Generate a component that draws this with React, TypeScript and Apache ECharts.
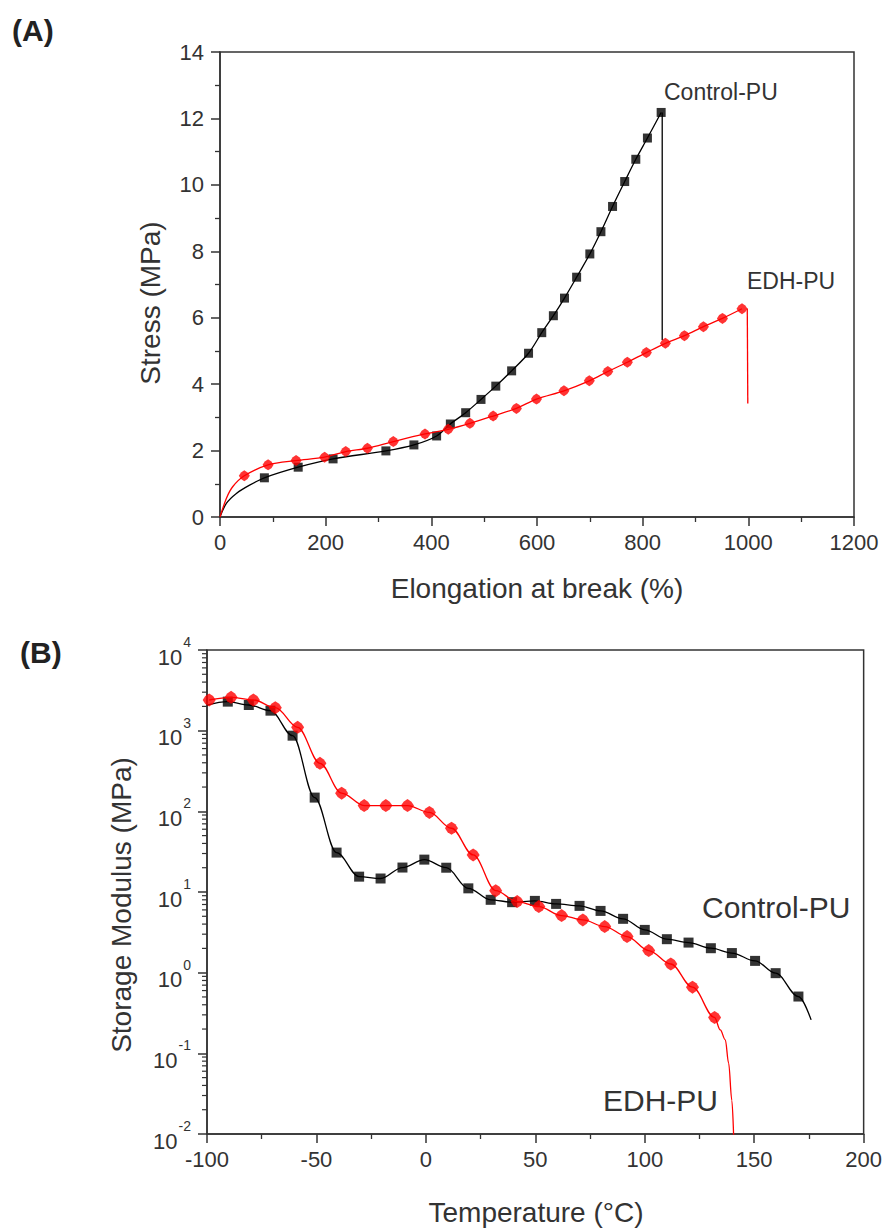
import React, { useEffect, useRef } from 'react';
import * as echarts from 'echarts';

const FONT = '"Liberation Sans", Arial, Helvetica, sans-serif';
const INK = '#333';
const RED = '#ff0000';
const OCTA = 'path://M10,0L16,4L20,10L16,16L10,20L4,16L0,10L4,4Z';

// ---------- (A) Stress–strain ----------
const tensileXTicks = [0, 200, 400, 600, 800, 1000, 1200];
const tensileYTicks = [0, 2, 4, 6, 8, 10, 12, 14];

const controlLeadStrain = [0, 12, 31, 56];
const controlLeadStress = [0, 0.41, 0.71, 0.96];
const controlStrain = [84, 148, 214, 314, 367, 410, 436, 465, 494, 522, 552, 584, 609, 631, 652, 675, 700, 721, 743, 766, 787, 809, 835];
const controlStress = [1.18, 1.5, 1.75, 1.99, 2.17, 2.44, 2.8, 3.14, 3.54, 3.94, 4.4, 4.93, 5.55, 6.06, 6.59, 7.22, 7.92, 8.59, 9.35, 10.1, 10.77, 11.41, 12.18];
const controlBreakStrain = [837, 837];
const controlBreakStress = [12.18, 5.33];

const edhLeadStrain = [0, 12, 24];
const edhLeadStress = [0, 0.56, 0.91];
const edhStrain = [46, 91, 144, 198, 238, 279, 328, 388, 432, 473, 517, 561, 599, 651, 699, 734, 771, 807, 843, 879, 915, 951, 988];
const edhStress = [1.24, 1.57, 1.7, 1.8, 1.97, 2.07, 2.27, 2.5, 2.64, 2.82, 3.04, 3.27, 3.55, 3.8, 4.1, 4.38, 4.66, 4.95, 5.23, 5.46, 5.73, 5.98, 6.27];
const edhBreakStrain = [998, 999, 999];
const edhBreakStress = [6.28, 6.28, 3.42];

// ---------- (B) DMA storage modulus ----------
const tempTicks = [-100, -50, 0, 50, 100, 150, 200];
const modulusExponents = [-2, -1, 0, 1, 2, 3, 4];

const controlTemp = [-90.5, -80.9, -71, -60.9, -50.8, -40.8, -30.5, -20.7, -10.7, -0.7, 9.3, 19.4, 29.6, 39.4, 49.8, 59.5, 70.2, 79.8, 90.1, 100, 110.1, 120, 130.2, 139.8, 150.4, 159.8, 170.2];
const controlModulus = [2290, 2080, 1770, 867, 148, 30.8, 15.5, 14.7, 20.1, 25.2, 20, 11.1, 8.0, 7.48, 7.76, 7.12, 6.73, 5.83, 4.65, 3.39, 2.6, 2.36, 2.01, 1.75, 1.4, 0.986, 0.506];
const controlLineStartTemp = -100;
const controlLineStartModulus = 2080;
const controlLineEndTemp = 176;
const controlLineEndModulus = 0.26;

const edhTemp = [-99, -89, -78.8, -68.8, -58.6, -48.4, -38.5, -28.2, -18.3, -8.4, 1.6, 11.7, 21.6, 31.9, 41.7, 51.6, 62, 71.7, 81.7, 91.9, 101.8, 111.9, 121.8, 131.9];
const edhModulus = [2400, 2590, 2400, 1930, 1100, 394, 168, 118, 118, 118, 97, 61.7, 28.8, 10.4, 7.6, 6.59, 5.1, 4.51, 3.73, 2.8, 1.88, 1.28, 0.66, 0.278];
const edhTailTemp = [134.5, 136.8, 138.3, 139.8, 140.6];
const edhTailModulus = [0.195, 0.147, 0.076, 0.026, 0.0095];

const zip = (xs: number[], ys: number[]) => xs.map((x, i) => [x, ys[i]]);

const minorLogTicks: number[][] = [];
for (let e = -2; e < 4; e++) {
  for (let m = 2; m <= 9; m++) minorLogTicks.push([-100, m * Math.pow(10, e)]);
}

export default function App() {
  const ref = useRef<HTMLDivElement>(null);
  useEffect(() => {
    if (!ref.current) return;
    const chart = echarts.init(ref.current, null, { renderer: 'svg' });
    const tickLabel = { color: INK, fontSize: 22, fontFamily: FONT, formatter: (v: number) => String(v) };
    const axisLine = { show: true, onZero: false, lineStyle: { color: INK, width: 1.5 } };
    const axisTick = { show: true, inside: false, length: 9, lineStyle: { color: INK, width: 1.5 } };
    const minorTick = { show: true, splitNumber: 2, length: 5, lineStyle: { color: INK, width: 1.3 } };
    const gridBox = { show: true, borderColor: INK, borderWidth: 1.5, backgroundColor: 'transparent' };

    const option: any = {
      animation: false,
      backgroundColor: '#fff',
      textStyle: { fontFamily: FONT },
      grid: [
        { left: 220, top: 52, width: 634, height: 465, ...gridBox },
        { left: 207, top: 650, width: 658, height: 484, ...gridBox },
      ],
      xAxis: [
        {
          gridIndex: 0, type: 'value', min: tensileXTicks[0], max: tensileXTicks[tensileXTicks.length - 1], interval: 200,
          axisLine, axisTick, minorTick, splitLine: { show: false }, minorSplitLine: { show: false },
          axisLabel: { ...tickLabel, margin: 14 },
        },
        {
          gridIndex: 1, type: 'value', min: tempTicks[0], max: tempTicks[tempTicks.length - 1], interval: 50,
          axisLine, axisTick, minorTick, splitLine: { show: false },
          axisLabel: { ...tickLabel, margin: 14 },
        },
      ],
      yAxis: [
        {
          gridIndex: 0, type: 'value', min: tensileYTicks[0], max: tensileYTicks[tensileYTicks.length - 1], interval: 2,
          axisLine, axisTick, minorTick, splitLine: { show: false },
          axisLabel: { ...tickLabel, margin: 16 },
        },
        {
          gridIndex: 1, type: 'log', logBase: 10,
          min: Math.pow(10, modulusExponents[0]), max: Math.pow(10, modulusExponents[modulusExponents.length - 1]),
          splitNumber: 6,
          axisLine, axisTick, splitLine: { show: false },
          axisLabel: {
            margin: 16,
            formatter: (v: number) => `{b|10}{s|${Math.round(Math.log10(v))}}`,
            rich: {
              b: { fontSize: 22, color: INK, fontFamily: FONT, padding: [14, 0, 0, 0] },
              s: { fontSize: 14, color: INK, fontFamily: FONT, padding: [0, 0, 16, 1] },
            },
          },
        },
      ],
      series: [
        // (A)
        {
          type: 'line', xAxisIndex: 0, yAxisIndex: 0, showSymbol: false, smooth: 0.3, z: 2,
          data: zip(controlLeadStrain.concat(controlStrain), controlLeadStress.concat(controlStress)),
          lineStyle: { color: '#000', width: 1.3 },
        },
        {
          type: 'line', xAxisIndex: 0, yAxisIndex: 0, showSymbol: false, z: 2,
          data: zip(controlBreakStrain, controlBreakStress), lineStyle: { color: '#000', width: 1.3 },
        },
        {
          type: 'scatter', xAxisIndex: 0, yAxisIndex: 0, symbol: 'rect', symbolSize: 9, z: 3,
          data: zip(controlStrain, controlStress), itemStyle: { color: '#000' },
        },
        {
          type: 'line', xAxisIndex: 0, yAxisIndex: 0, showSymbol: false, smooth: 0.3, z: 4,
          data: zip(edhLeadStrain.concat(edhStrain), edhLeadStress.concat(edhStress)),
          lineStyle: { color: RED, width: 1.3 },
        },
        {
          type: 'line', xAxisIndex: 0, yAxisIndex: 0, showSymbol: false, z: 4,
          data: zip(edhBreakStrain, edhBreakStress), lineStyle: { color: RED, width: 1.3 },
        },
        {
          type: 'scatter', xAxisIndex: 0, yAxisIndex: 0, symbol: OCTA, symbolSize: 11, z: 5,
          data: zip(edhStrain, edhStress), itemStyle: { color: RED },
        },
        // (B)
        {
          type: 'line', xAxisIndex: 1, yAxisIndex: 1, showSymbol: false, smooth: 0.35, smoothMonotone: 'x', z: 2,
          data: zip(
            [controlLineStartTemp, ...controlTemp, controlLineEndTemp],
            [controlLineStartModulus, ...controlModulus, controlLineEndModulus]
          ),
          lineStyle: { color: '#000', width: 1.3 },
        },
        {
          type: 'scatter', xAxisIndex: 1, yAxisIndex: 1, symbol: 'rect', symbolSize: 10, z: 3,
          data: zip(controlTemp, controlModulus), itemStyle: { color: '#000' },
        },
        {
          type: 'line', xAxisIndex: 1, yAxisIndex: 1, showSymbol: false, smooth: 0.35, smoothMonotone: 'x', z: 4, clip: true,
          data: zip(edhTemp.concat(edhTailTemp), edhModulus.concat(edhTailModulus)),
          lineStyle: { color: RED, width: 1.3 },
        },
        {
          type: 'scatter', xAxisIndex: 1, yAxisIndex: 1, symbol: OCTA, symbolSize: 13, z: 5,
          data: zip(edhTemp, edhModulus), itemStyle: { color: RED },
        },
        {
          type: 'custom', xAxisIndex: 1, yAxisIndex: 1, clip: false, silent: true, z: 1,
          data: minorLogTicks,
          renderItem: (_p: any, api: any) => {
            const pt = api.coord([api.value(0), api.value(1)]);
            return {
              type: 'line',
              shape: { x1: pt[0] - 5, y1: pt[1], x2: pt[0], y2: pt[1] },
              style: { stroke: INK, lineWidth: 1.2 },
            };
          },
        },
      ],
      graphic: [
        { type: 'text', x: 12, y: 30, style: { text: '(A)', fontSize: 30, fontWeight: 'bold', fontFamily: FONT, fill: '#222', verticalAlign: 'middle' } },
        { type: 'text', x: 20, y: 652, style: { text: '(B)', fontSize: 30, fontWeight: 'bold', fontFamily: FONT, fill: '#222', verticalAlign: 'middle' } },
        { type: 'text', x: 537, y: 588, style: { text: 'Elongation at break (%)', fontSize: 28, fontFamily: FONT, fill: INK, align: 'center', verticalAlign: 'middle' } },
        { type: 'text', x: 150, y: 303, rotation: Math.PI / 2, style: { text: 'Stress (MPa)', fontSize: 28, fontFamily: FONT, fill: INK, align: 'center', verticalAlign: 'middle' } },
        { type: 'text', x: 536, y: 1212, style: { text: 'Temperature (°C)', fontSize: 28, fontFamily: FONT, fill: INK, align: 'center', verticalAlign: 'middle' } },
        { type: 'text', x: 121, y: 905, rotation: Math.PI / 2, style: { text: 'Storage Modulus (MPa)', fontSize: 28, fontFamily: FONT, fill: INK, align: 'center', verticalAlign: 'middle' } },
        { type: 'text', x: 664, y: 92, style: { text: 'Control-PU', fontSize: 23, fontFamily: FONT, fill: INK, verticalAlign: 'middle' } },
        { type: 'text', x: 747, y: 281, style: { text: 'EDH-PU', fontSize: 23, fontFamily: FONT, fill: INK, verticalAlign: 'middle' } },
        { type: 'text', x: 702, y: 907, style: { text: 'Control-PU', fontSize: 30, fontFamily: FONT, fill: INK, verticalAlign: 'middle' } },
        { type: 'text', x: 603, y: 1100, style: { text: 'EDH-PU', fontSize: 30, fontFamily: FONT, fill: INK, verticalAlign: 'middle' } },
      ],
    };
    chart.setOption(option);
    return () => chart.dispose();
  }, []);
  return (
    <div
      ref={ref}
      style={{ position: 'fixed', left: 0, top: 0, width: 885, height: 1230, background: '#fff' }}
    />
  );
}
